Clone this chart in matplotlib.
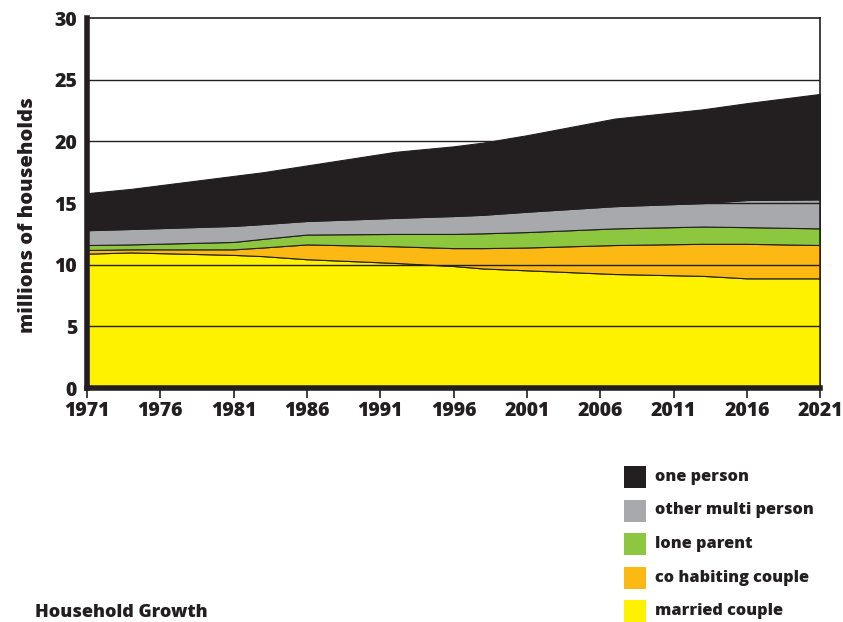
import matplotlib
matplotlib.use('Agg')
import matplotlib.pyplot as plt
from matplotlib.patches import Rectangle

# household counts in millions, by type
years = [1971, 1974, 1981, 1983, 1986, 1992, 1996, 1998, 2001, 2007, 2013, 2016, 2021]
married = [10.9, 11.0, 10.8, 10.7, 10.45, 10.15, 9.9, 9.7, 9.55, 9.25, 9.1, 8.9, 8.9]
cohabiting = [0.3, 0.25, 0.45, 0.7, 1.2, 1.35, 1.45, 1.65, 1.85, 2.35, 2.6, 2.8, 2.7]
lone_parent = [0.4, 0.4, 0.6, 0.7, 0.8, 1.0, 1.15, 1.2, 1.25, 1.35, 1.4, 1.35, 1.35]
other_multi = [1.2, 1.25, 1.3, 1.2, 1.1, 1.3, 1.45, 1.5, 1.65, 1.8, 1.9, 2.2, 2.35]
one_person = [3.0, 3.25, 4.05, 4.2, 4.5, 5.35, 5.65, 5.85, 6.2, 7.1, 7.6, 7.85, 8.55]

labels = ['married couple', 'co habiting couple', 'lone parent', 'other multi person', 'one person']
colors = ['#fff200', '#fdb913', '#8dc63f', '#a7a9ac', '#231f20']
tick_years = list(range(1971, 2022, 5))
dark = '#231f20'
wt = 'heavy'

plt.rcParams['font.family'] = ['Open Sans', 'DejaVu Sans']

fig = plt.figure(figsize=(8.43, 6.22), dpi=100)
ax = fig.add_axes([0.103, 0.376, 0.870, 0.595])

ax.stackplot(years, married, cohabiting, lone_parent, other_multi, one_person,
             colors=colors, edgecolor=dark, linewidth=0.8, zorder=1)

for y in [5, 10, 15, 20, 25]:
    ax.axhline(y, color=dark, lw=1.0, zorder=2)

ax.set_xlim(1971, 2021)
ax.set_ylim(0, 30)
ax.set_xticks(tick_years)
ax.set_yticks(range(0, 31, 5))
ax.tick_params(axis='x', length=7, width=1.2, color=dark, labelsize=14, pad=2)
ax.tick_params(axis='y', length=0, labelsize=14, pad=7)
for lab in ax.get_xticklabels() + ax.get_yticklabels():
    lab.set_fontweight(wt)
    lab.set_color(dark)

ax.spines['left'].set_linewidth(4)
ax.spines['bottom'].set_linewidth(4)
ax.spines['top'].set_linewidth(1.2)
ax.spines['right'].set_linewidth(1.2)
for s in ax.spines.values():
    s.set_color(dark)
    s.set_zorder(3)

ax.set_ylabel('millions of households', fontsize=14.5, fontweight=wt, color=dark)
ax.yaxis.set_label_coords(-0.066, 0.468)

# legend drawn by hand, top entry first
W, H = 843.0, 622.0
rows = list(zip(labels, colors))[::-1]
for i, (lab, col) in enumerate(rows):
    yc = 477 + i * 33.5
    fig.add_artist(Rectangle((624 / W, 1 - (yc + 11) / H), 22 / W, 22 / H,
                             transform=fig.transFigure, facecolor=col, edgecolor='none'))
    fig.text(655 / W, 1 - yc / H, lab, fontsize=11.7, fontweight=wt,
             color=dark, va='center', ha='left')

fig.text(35 / W, 1 - 621 / H, 'Household Growth', fontsize=13, fontweight=wt,
         color=dark, va='bottom', ha='left')

fig.savefig('out.png', dpi=100)
